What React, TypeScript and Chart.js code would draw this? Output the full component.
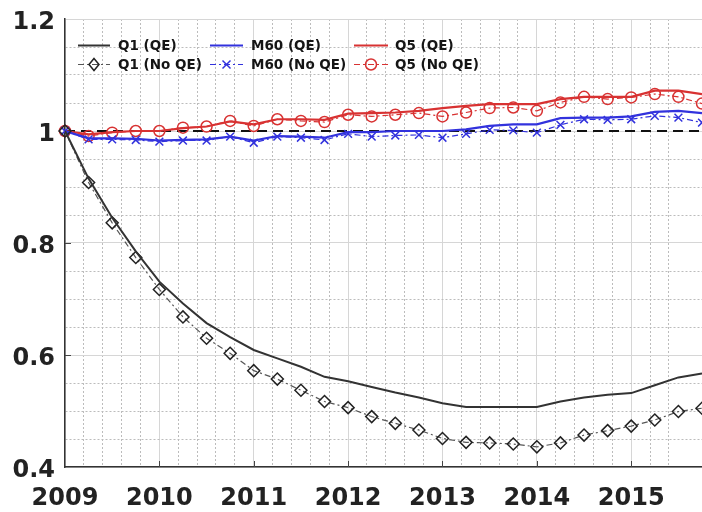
import React, { useEffect, useRef } from 'react';
import { Chart, registerables } from 'chart.js';

Chart.register(...registerables);

const QUARTERS = [
  2009, 2009.25, 2009.5, 2009.75, 2010, 2010.25, 2010.5, 2010.75,
  2011, 2011.25, 2011.5, 2011.75, 2012, 2012.25, 2012.5, 2012.75,
  2013, 2013.25, 2013.5, 2013.75, 2014, 2014.25, 2014.5, 2014.75,
  2015, 2015.25, 2015.5, 2015.75,
];

const Q1_QE = [1.0, 0.915, 0.845, 0.785, 0.731, 0.692, 0.657, 0.632, 0.609, 0.594, 0.579, 0.561, 0.553, 0.543, 0.533, 0.524, 0.514, 0.507, 0.507, 0.507, 0.507, 0.517, 0.524, 0.529, 0.532, 0.546, 0.56, 0.567];
const Q1_NOQE = [1.0, 0.908, 0.836, 0.774, 0.717, 0.668, 0.63, 0.603, 0.572, 0.557, 0.537, 0.517, 0.506, 0.49, 0.478, 0.466, 0.451, 0.444, 0.443, 0.441, 0.436, 0.443, 0.457, 0.465, 0.473, 0.484, 0.499, 0.505];
const M60_QE = [1.0, 0.987, 0.987, 0.986, 0.983, 0.984, 0.985, 0.99, 0.983, 0.991, 0.99, 0.988, 0.998, 0.998, 1.0, 1.0, 1.0, 1.003, 1.009, 1.012, 1.012, 1.023, 1.024, 1.024, 1.026, 1.034, 1.036, 1.032];
const M60_NOQE = [1.0, 0.985, 0.985, 0.984, 0.981, 0.983, 0.983, 0.99, 0.979, 0.99, 0.988, 0.984, 0.995, 0.99, 0.992, 0.993, 0.988, 0.995, 1.002, 1.001, 0.997, 1.011, 1.021, 1.02, 1.021, 1.027, 1.024, 1.015];
const Q5_QE = [1.0, 0.994, 0.998, 1.0, 1.0, 1.005, 1.008, 1.017, 1.012, 1.021, 1.021, 1.02, 1.031, 1.032, 1.033, 1.036, 1.041, 1.045, 1.048, 1.048, 1.048, 1.057, 1.061, 1.061, 1.061, 1.072, 1.072, 1.066];
const Q5_NOQE = [1.0, 0.991, 0.997, 1.0, 1.0, 1.006, 1.008, 1.018, 1.009, 1.021, 1.018, 1.016, 1.029, 1.026, 1.029, 1.032, 1.026, 1.033, 1.041, 1.042, 1.036, 1.051, 1.061, 1.057, 1.06, 1.066, 1.061, 1.049];

const BASELINE_X = [2009, 2015.75];
const BASELINE_Y = [1, 1];

const X_TICK_YEARS = [2010, 2011, 2012, 2013, 2014, 2015];
const Y_MAJOR = [0.6, 0.8, 1.0];

const LEGEND_LABELS = ['Q1 (QE)', 'Q1 (No QE)', 'M60 (QE)', 'M60 (No QE)', 'Q5 (QE)', 'Q5 (No QE)'];

const BLACK = '#333333';
const GREY = '#555555';
const BLUE = '#3232dd';
const RED = '#d83232';
const DASHDOT = [6, 3, 2, 3];

const FONT = '"DejaVu Sans", "Liberation Sans", Arial, sans-serif';

type Marker = 'none' | 'diamond' | 'cross' | 'circle';

const LEGEND_STYLE: { color: string; dash: number[]; width: number; marker: Marker; markerColor: string }[] = [
  { color: BLACK, dash: [], width: 2, marker: 'none', markerColor: BLACK },
  { color: GREY, dash: DASHDOT, width: 1.2, marker: 'diamond', markerColor: '#222' },
  { color: BLUE, dash: [], width: 2.2, marker: 'none', markerColor: BLUE },
  { color: BLUE, dash: DASHDOT, width: 1.2, marker: 'cross', markerColor: BLUE },
  { color: RED, dash: [], width: 2.2, marker: 'none', markerColor: RED },
  { color: RED, dash: DASHDOT, width: 1.2, marker: 'circle', markerColor: RED },
];

function drawMarker(ctx: CanvasRenderingContext2D, m: Marker, x: number, y: number, color: string) {
  if (m === 'none') return;
  ctx.save();
  ctx.setLineDash([]);
  ctx.strokeStyle = color;
  ctx.lineWidth = 1.5;
  ctx.beginPath();
  if (m === 'diamond') {
    ctx.moveTo(x, y - 6);
    ctx.lineTo(x + 5, y);
    ctx.lineTo(x, y + 6);
    ctx.lineTo(x - 5, y);
    ctx.closePath();
  } else if (m === 'cross') {
    ctx.moveTo(x - 4, y - 4);
    ctx.lineTo(x + 4, y + 4);
    ctx.moveTo(x - 4, y + 4);
    ctx.lineTo(x + 4, y - 4);
  } else {
    ctx.arc(x, y, 5.5, 0, Math.PI * 2);
  }
  ctx.stroke();
  ctx.restore();
}

const legendPlugin = {
  id: 'customLegend',
  afterDraw(chart: any) {
    const ctx: CanvasRenderingContext2D = chart.ctx;
    const cols = [
      { x0: 78, x1: 110, tx: 118 },
      { x0: 210, x1: 243, tx: 251 },
      { x0: 354, x1: 388, tx: 395 },
    ];
    const rows = [45.5, 64.5];
    ctx.save();
    LEGEND_LABELS.forEach((label, i) => {
      const c = cols[Math.floor(i / 2)];
      const y = rows[i % 2];
      const s = LEGEND_STYLE[i];
      ctx.save();
      ctx.strokeStyle = s.color;
      ctx.lineWidth = s.width;
      ctx.setLineDash(s.dash);
      ctx.beginPath();
      ctx.moveTo(c.x0, y);
      ctx.lineTo(c.x1, y);
      ctx.stroke();
      ctx.restore();
      drawMarker(ctx, s.marker, (c.x0 + c.x1) / 2, y, s.markerColor);
      ctx.fillStyle = '#151515';
      ctx.font = 'bold 13.5px ' + FONT;
      ctx.textAlign = 'left';
      ctx.textBaseline = 'middle';
      ctx.fillText(label, c.tx, y + 0.5);
    });
    ctx.restore();
  },
};

const innerTicksPlugin = {
  id: 'innerTicks',
  beforeDatasetsDraw(chart: any) {
    const ctx: CanvasRenderingContext2D = chart.ctx;
    const xs = chart.scales.x;
    const ys = chart.scales.y;
    const a = chart.chartArea;
    ctx.save();
    ctx.strokeStyle = '#444';
    ctx.lineWidth = 1;
    ctx.beginPath();
    X_TICK_YEARS.forEach((v) => {
      const px = Math.round(xs.getPixelForValue(v)) + 0.5;
      ctx.moveTo(px, a.bottom);
      ctx.lineTo(px, a.bottom - 6);
    });
    Y_MAJOR.forEach((v) => {
      const py = Math.round(ys.getPixelForValue(v)) + 0.5;
      ctx.moveTo(a.left, py);
      ctx.lineTo(a.left + 6, py);
    });
    ctx.stroke();
    ctx.restore();
  },
};

const isMajorX = (v: number) => Math.abs(v - Math.round(v)) < 1e-6;
const isMajorY = (v: number) => Math.abs(v * 5 - Math.round(v * 5)) < 1e-6;

const toPts = (ys: number[]) => ys.map((y, i) => ({ x: QUARTERS[i], y }));

export default function App() {
  const ref = useRef<HTMLCanvasElement | null>(null);

  useEffect(() => {
    document.body.style.margin = '0';
    const canvas = ref.current;
    if (!canvas) return;

    const chart = new Chart(canvas, {
      type: 'line',
      data: {
        datasets: [
          {
            label: 'Q1 (QE)',
            data: toPts(Q1_QE),
            borderColor: BLACK,
            borderWidth: 2,
            pointRadius: 0,
          },
          {
            label: 'Q1 (No QE)',
            data: toPts(Q1_NOQE),
            borderColor: GREY,
            borderWidth: 1.2,
            borderDash: DASHDOT,
            pointStyle: 'rectRot',
            pointRadius: 6,
            pointBorderColor: '#222',
            pointBackgroundColor: 'rgba(0,0,0,0)',
            pointBorderWidth: 1.5,
            clip: false,
          },
          {
            label: 'M60 (QE)',
            data: toPts(M60_QE),
            borderColor: BLUE,
            borderWidth: 2.2,
            pointRadius: 0,
          },
          {
            label: 'M60 (No QE)',
            data: toPts(M60_NOQE),
            borderColor: BLUE,
            borderWidth: 1.2,
            borderDash: DASHDOT,
            pointStyle: 'crossRot',
            pointRadius: 5.5,
            pointBorderColor: BLUE,
            pointBorderWidth: 1.5,
            clip: false,
          },
          {
            label: 'Q5 (QE)',
            data: toPts(Q5_QE),
            borderColor: RED,
            borderWidth: 2.2,
            pointRadius: 0,
          },
          {
            label: 'Q5 (No QE)',
            data: toPts(Q5_NOQE),
            borderColor: RED,
            borderWidth: 1.2,
            borderDash: DASHDOT,
            pointStyle: 'circle',
            pointRadius: 5.5,
            pointBorderColor: RED,
            pointBackgroundColor: 'rgba(0,0,0,0)',
            pointBorderWidth: 1.5,
            clip: false,
          },
          {
            label: 'baseline',
            data: BASELINE_X.map((x, i) => ({ x, y: BASELINE_Y[i] })),
            borderColor: '#111',
            borderWidth: 1.8,
            borderDash: [10, 6],
            pointRadius: 0,
            clip: false,
          },
        ],
      },
      options: {
        animation: false,
        responsive: false,
        devicePixelRatio: 1,
        layout: { autoPadding: false, padding: { top: 19, right: 0, left: 0, bottom: 0 } },
        plugins: {
          legend: { display: false },
          tooltip: { enabled: false },
        },
        elements: { line: { tension: 0 } },
        scales: {
          x: {
            type: 'linear',
            min: 2009,
            max: 2015.75,
            ticks: {
              stepSize: 0.2,
              autoSkip: false,
              maxRotation: 0,
              padding: 17,
              color: '#222',
              font: { family: FONT, size: 24, weight: 'bold' },
              callback: (v: any) => (isMajorX(Number(v)) ? String(Math.round(Number(v))) : ''),
            },
            grid: {
              drawTicks: false,
              lineWidth: 1,
              color: (c: any) => (c.tick && isMajorX(c.tick.value) ? '#d6d6d6' : '#bcbcbc'),
            },
            border: {
              color: '#333',
              width: 1.5,
              dash: (c: any) => (c.tick && !isMajorX(c.tick.value) ? [2, 2] : []),
            },
            afterFit: (s: any) => {
              s.height = 45;
              s.paddingLeft = 0;
              s.paddingRight = 0;
            },
          },
          y: {
            type: 'linear',
            min: 0.4,
            max: 1.2,
            ticks: {
              stepSize: 0.05,
              autoSkip: false,
              padding: 10,
              labelOffset: 4,
              color: '#222',
              font: { family: FONT, size: 24, weight: 'bold' },
              callback: (v: any) => {
                const n = Number(v);
                if (!isMajorY(n)) return '';
                return Math.abs(n - 1) < 1e-6 ? '1' : n.toFixed(1);
              },
            },
            grid: {
              drawTicks: false,
              lineWidth: 1,
              color: (c: any) => (c.tick && isMajorY(c.tick.value) ? '#d6d6d6' : '#bcbcbc'),
            },
            border: {
              color: '#333',
              width: 1.5,
              dash: (c: any) => (c.tick && !isMajorY(c.tick.value) ? [2, 2] : []),
            },
            afterFit: (s: any) => {
              s.width = 65;
              s.paddingTop = 0;
              s.paddingBottom = 0;
            },
          },
        },
      } as any,
      plugins: [innerTicksPlugin, legendPlugin],
    });

    return () => chart.destroy();
  }, []);

  return (
    <div style={{ position: 'fixed', left: 0, top: 0, width: 702, height: 512, background: '#fff' }}>
      <canvas ref={ref} width={702} height={512} style={{ width: 702, height: 512, display: 'block' }} />
    </div>
  );
}
